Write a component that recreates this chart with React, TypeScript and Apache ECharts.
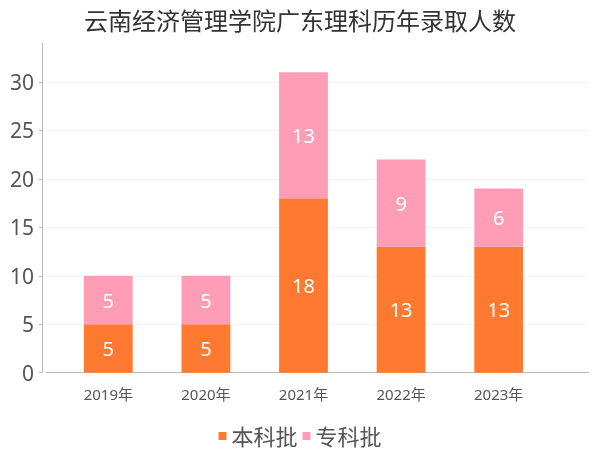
import React, { useEffect, useRef } from "react";
import * as echarts from "echarts";

const title = "云南经济管理学院广东理科历年录取人数";
const years = ["2019年", "2020年", "2021年", "2022年", "2023年"];
const seriesNames = ["本科批", "专科批"];
const benke = [5, 5, 18, 13, 13];
const zhuanke = [5, 5, 13, 9, 6];
const yMax = 34;
const yTopTick = 30;
const yInterval = 5;

const FONT = "'Noto Sans', 'Noto Sans CJK SC', sans-serif";

export default function App() {
  const ref = useRef<HTMLDivElement>(null);
  useEffect(() => {
    const chart = echarts.init(ref.current!, null, { renderer: "svg" });
    const top = 43.3;
    const bottom = 77.3;
    const plotH = 450 - top - bottom;
    const gridLinesTop = 450 - bottom - (plotH * yTopTick) / yMax;
    chart.setOption({
      animation: false,
      textStyle: { fontFamily: FONT },
      color: ["#FF7A30", "#FF9DB6"],
      title: {
        text: title,
        left: "center",
        top: 3,
        textStyle: { fontSize: 24, fontWeight: "normal", color: "#333", fontFamily: FONT },
      },
      legend: {
        data: seriesNames,
        left: "center",
        top: 420,
        itemWidth: 8,
        itemHeight: 8,
        itemGap: 5,
        icon: "rect",
        textStyle: { fontSize: 22, color: "#555", fontFamily: FONT },
      },
      grid: [
        { left: 59.5, right: 52.5, top, bottom },
        { left: 46, right: 11.3, top, bottom },
        { left: 46, right: 11.3, top: gridLinesTop, bottom },
      ],
      xAxis: [
        {
          type: "category",
          gridIndex: 0,
          data: years,
          offset: 5,
          axisLine: { show: false },
          axisTick: { show: true, alignWithLabel: true, inside: true, length: 3, lineStyle: { color: "#bbb" } },
          axisLabel: { fontSize: 15, color: "#555", margin: 9, fontFamily: FONT },
        },
        {
          type: "category",
          gridIndex: 1,
          data: years,
          offset: 5,
          axisLine: { show: true, lineStyle: { color: "#bbb" } },
          axisTick: { show: false },
          axisLabel: { show: false },
        },
        {
          type: "category",
          gridIndex: 2,
          data: years,
          show: false,
        },
      ],
      yAxis: [
        {
          type: "value",
          gridIndex: 1,
          min: 0,
          max: yMax,
          interval: yInterval,
          offset: 4,
          axisLine: { show: true, lineStyle: { color: "#bbb" } },
          axisTick: { show: true, length: 3, lineStyle: { color: "#bbb" } },
          axisLabel: { fontSize: 21, color: "#555", margin: 8, showMaxLabel: false, fontFamily: FONT },
          splitLine: { show: false },
        },
        {
          type: "value",
          gridIndex: 0,
          min: 0,
          max: yMax,
          show: false,
          splitLine: { show: false },
        },
        {
          type: "value",
          gridIndex: 2,
          min: 0,
          max: yTopTick,
          interval: yInterval,
          axisLine: { show: false },
          axisTick: { show: false },
          axisLabel: { show: false },
          splitLine: { show: true, lineStyle: { color: "#f3f3f3" } },
        },
      ],
      series: [
        {
          name: seriesNames[0],
          type: "bar",
          stack: "total",
          xAxisIndex: 0,
          yAxisIndex: 1,
          barWidth: "50%",
          data: benke,
          label: { show: true, position: "inside", color: "#fff", fontSize: 20, fontFamily: FONT },
        },
        {
          name: seriesNames[1],
          type: "bar",
          stack: "total",
          xAxisIndex: 0,
          yAxisIndex: 1,
          barWidth: "50%",
          data: zhuanke,
          label: { show: true, position: "inside", color: "#fff", fontSize: 20, fontFamily: FONT },
        },
      ],
    });
    return () => chart.dispose();
  }, []);
  return (
    <div
      ref={ref}
      style={{ position: "fixed", left: 0, top: 0, width: 600, height: 450 }}
    />
  );
}
